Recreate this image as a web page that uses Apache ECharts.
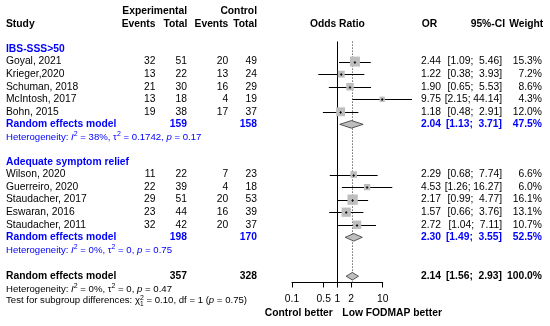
<!DOCTYPE html>
<html><head><meta charset="utf-8">
<script src="https://cdn.jsdelivr.net/npm/echarts@6/dist/echarts.min.js"></script>
<style>html,body{margin:0;padding:0;background:#fff}#c{width:550px;height:326px}</style>
</head><body><div id="c"></div>
<script>
// ---------- data ----------
const groupNames = ["IBS-SSS>50", "Adequate symptom relief"];
const studyNames = ["Goyal, 2021","Krieger,2020","Schuman, 2018","McIntosh, 2017","Bohn, 2015",
                    "Wilson, 2020","Guerreiro, 2020","Staudacher, 2017","Eswaran, 2016","Staudacher, 2011"];
const studyGroup = [0,0,0,0,0,1,1,1,1,1];
const expEvents = [32,13,21,13,19,11,22,29,23,32];
const expTotal = [51,22,30,18,38,22,39,51,44,42];
const ctrlEvents = [20,13,16,4,17,7,4,20,16,20];
const ctrlTotal = [49,24,29,19,37,23,18,53,39,37];
const studyOR = [2.44,1.22,1.90,9.75,1.18,2.29,4.53,2.17,1.57,2.72];
const studyLower = [1.09,0.38,0.65,2.15,0.48,0.68,1.26,0.99,0.66,1.04];
const studyUpper = [5.46,3.93,5.53,44.14,2.91,7.74,16.27,4.77,3.76,7.11];
const studyWeight = [15.3,7.2,8.6,4.3,12.0,6.6,6.0,16.1,13.1,10.7];
const pooledLabel = "Random effects model";
const pooledExpTotal = [159,198,357];
const pooledCtrlTotal = [158,170,328];
const pooledOR = [2.04,2.30,2.14];
const pooledLower = [1.13,1.49,1.56];
const pooledUpper = [3.71,3.55,2.93];
const pooledWeight = [47.5,52.5,100.0];
const hetI2 = ["38%","0%","0%"];
const hetTau2 = ["0.1742","0","0"];
const hetP = ["0.17","0.75","0.47"];
const subgroupChi2 = "0.10", subgroupDf = "1", subgroupP = "0.75";
const tickValues = [0.1,0.5,1,2,10];
const labelLeft = "Control better", labelRight = "Low FODMAP better";

// ---------- layout / style ----------
const FF = '"Liberation Sans", Arial, Helvetica, sans-serif';
const FS = 10.3, FSH = 9.6;
const BLUE = '#0000ff';
const COL = {study:6, expE:155.5, expT:187, ctlE:228.3, ctlT:257, or:441, ci:502, w:542};

function fmtCI(lo, hi){ return '[' + lo.toFixed(2) + '; ' + (hi < 10 ? ' ' : '') + hi.toFixed(2) + ']'; }

const groupRow = g => g * 9;
const studyRows = studyGroup.map((g, i) => groupRow(g) + 1 + (i - studyGroup.indexOf(g)));
const pooledRows = [6, 15, 18.1];
const hetRows = [7, 16, 19.12];
const testRow = 20.06;
const bottomLabelRow = 21.08;

const tableRows = [];
function add(row, cells){ tableRows.push({row, cells}); }
add(-3, [{x:COL.expT,a:'right',t:'Experimental',b:1},{x:COL.ctlT,a:'right',t:'Control',b:1}]);
add(-2, [{x:COL.study,a:'left',t:'Study',b:1},{x:COL.expE,a:'right',t:'Events',b:1},{x:COL.expT+0.3,a:'right',t:'Total',b:1},
         {x:COL.ctlE,a:'right',t:'Events',b:1},{x:COL.ctlT,a:'right',t:'Total',b:1},{xv:1,dx:0,a:'center',t:'Odds Ratio',b:1},
         {x:437.3,a:'right',t:'OR',b:1},{x:505,a:'right',t:'95%-CI',b:1},{x:543.3,a:'right',t:'Weight',b:1}]);
groupNames.forEach((g, gi) => add(groupRow(gi), [{x:COL.study,a:'left',t:g,b:1,c:BLUE}]));
studyNames.forEach((s, i) => add(studyRows[i], [
  {x:COL.study,a:'left',t:s},{x:COL.expE,a:'right',t:String(expEvents[i])},{x:COL.expT,a:'right',t:String(expTotal[i])},
  {x:COL.ctlE,a:'right',t:String(ctrlEvents[i])},{x:COL.ctlT,a:'right',t:String(ctrlTotal[i])},
  {x:COL.or,a:'right',t:studyOR[i].toFixed(2)},{x:COL.ci,a:'right',t:fmtCI(studyLower[i],studyUpper[i])},
  {x:COL.w,a:'right',t:studyWeight[i].toFixed(1)+'%'}]));
pooledOR.forEach((v, k) => {
  const c = k < 2 ? BLUE : '#000';
  add(pooledRows[k], [{x:COL.study,a:'left',t:pooledLabel,b:1,c},{x:COL.expT,a:'right',t:String(pooledExpTotal[k]),b:1,c},
    {x:COL.ctlT,a:'right',t:String(pooledCtrlTotal[k]),b:1,c},{x:COL.or,a:'right',t:v.toFixed(2),b:1,c},
    {x:COL.ci,a:'right',t:fmtCI(pooledLower[k],pooledUpper[k]),b:1,c},{x:COL.w,a:'right',t:pooledWeight[k].toFixed(1)+'%',b:1,c}]);
  add(hetRows[k], [{x:COL.study,a:'left',het:k,c}]);
});
add(testRow, [{x:COL.study,a:'left',test:1,c:'#000'}]);
add(bottomLabelRow, [{xv:1,dx:-4.5,a:'right',t:labelLeft,b:1},{xv:1,dx:5,a:'left',t:labelRight,b:1}]);

const mctx = document.createElement('canvas').getContext('2d');
function measure(t, size){ mctx.font = size + 'px ' + FF; return mctx.measureText(t).width; }

function richStyles(color){
  return {
    n:{fontSize:FSH,fontFamily:FF,fill:color,lineHeight:12},
    it:{fontSize:FSH,fontFamily:FF,fill:color,fontStyle:'italic',lineHeight:12},
    sup:{fontSize:7,fontFamily:FF,fill:color,verticalAlign:'top',lineHeight:7}
  };
}

function renderTable(params, api){
  const r = tableRows[api.value(1)];
  const y = api.coord([1, r.row])[1];
  const x1 = api.coord([1, r.row])[0];
  const children = [];
  r.cells.forEach(cell => {
    const x = cell.xv !== undefined ? x1 + cell.dx : cell.x;
    const color = cell.c || '#000';
    if (cell.het !== undefined) {
      const k = cell.het;
      children.push({type:'text', x, y, style:{
        text:'{n|Heterogeneity: }{it|I}{sup|2}{n| = ' + hetI2[k] + ', τ}{sup|2}{n| = ' + hetTau2[k] + ', }{it|p}{n| = ' + hetP[k] + '}',
        rich:richStyles(color), align:'left', verticalAlign:'middle', fill:color, fontSize:FSH, fontFamily:FF}});
    } else if (cell.test) {
      const pre = 'Test for subgroup differences: χ';
      children.push({type:'text', x, y, style:{
        text:'{n|' + pre + '}{sup|2}{n| = ' + subgroupChi2 + ', df = ' + subgroupDf + ' (}{it|p}{n| = ' + subgroupP + ')}',
        rich:richStyles(color), align:'left', verticalAlign:'middle', fill:color, fontSize:FSH, fontFamily:FF}});
      children.push({type:'text', x: x + measure(pre, FSH), y: y + 3.5, style:{
        text: subgroupDf, fontSize:6.5, fontFamily:FF, fill:color, align:'left', verticalAlign:'middle'}});
    } else {
      children.push({type:'text', x, y, style:{text:cell.t, align:cell.a, verticalAlign:'middle', fill:color,
        fontSize:FS, fontFamily:FF, fontWeight: cell.b ? 'bold' : 'normal'}});
    }
  });
  return {type:'group', children};
}

function renderStudy(params, api){
  const row = api.value(0), or = api.value(1), lo = api.value(2), hi = api.value(3), w = api.value(4);
  const p = api.coord([or, row]), pl = api.coord([lo, row]), ph = api.coord([hi, row]);
  const s = 2.56 * Math.sqrt(w);
  const yy = Math.round(p[1]) + 0.5;
  return {type:'group', children:[
    {type:'line', shape:{x1:pl[0], y1:yy, x2:ph[0], y2:yy}, style:{stroke:'#000', lineWidth:1}},
    {type:'rect', shape:{x:p[0]-s/2, y:p[1]-s/2, width:s, height:s}, style:{fill:'#bebebe'}},
    {type:'line', shape:{x1:p[0], y1:yy-1.5, x2:p[0], y2:yy+1.5}, style:{stroke:'#000', lineWidth:0.8}},
    {type:'line', shape:{x1:p[0]-1.2, y1:yy, x2:p[0]+1.2, y2:yy}, style:{stroke:'#000', lineWidth:0.8}}
  ]};
}

function renderDiamond(params, api){
  const row = api.value(0), or = api.value(1), lo = api.value(2), hi = api.value(3);
  const p = api.coord([or, row]), pl = api.coord([lo, row]), ph = api.coord([hi, row]);
  const h = 3.8;
  return {type:'polygon', shape:{points:[[pl[0],p[1]],[p[0],p[1]-h],[ph[0],p[1]],[p[0],p[1]+h]]},
    style:{fill:'#bebebe', stroke:'#333', lineWidth:0.8}};
}

function renderRef(params, api){
  const v = api.value(0);
  const a = api.coord([v, -0.6]), b = api.coord([v, 18.6]);
  const x = Math.round(a[0]) + 0.5;
  const dotted = params.dataIndex === 1;
  return {type:'line', shape:{x1:x, y1:a[1], x2:x, y2:b[1]},
    style:{stroke: dotted ? '#444' : '#000', lineWidth:1, lineDash: dotted ? [1.2,1.8] : null}};
}

const chart = echarts.init(document.getElementById('c'), null, {renderer:'canvas'});
chart.setOption({
  animation:false,
  backgroundColor:'#fff',
  textStyle:{fontFamily:FF},
  grid:{left:292, right:167.3, top:41.5, height:241},
  xAxis:{type:'log', logBase:10, min:0.1, max:10,
    axisLine:{onZero:false, lineStyle:{color:'#000', width:1}},
    axisTick:{customValues:tickValues, length:5, lineStyle:{color:'#000'}},
    axisLabel:{customValues:tickValues, margin:12, fontSize:FS, fontFamily:FF, color:'#000',
      formatter: v => String(+(+v).toPrecision(3))},
    splitLine:{show:false}, minorTick:{show:false}},
  yAxis:{type:'value', inverse:true, min:-0.6, max:18.6, show:false},
  series:[
    {type:'custom', name:'ref', renderItem:renderRef, encode:{x:0}, clip:false,
     data:[[1],[pooledOR[2]]], z:1},
    {type:'custom', name:'studies', renderItem:renderStudy, encode:{x:[1,2,3], y:0}, clip:false,
     data: studyOR.map((v,i) => [studyRows[i], v, studyLower[i], studyUpper[i], studyWeight[i]]), z:3},
    {type:'custom', name:'pooled', renderItem:renderDiamond, encode:{x:[1,2,3], y:0}, clip:false,
     data: pooledOR.map((v,k) => [pooledRows[k], v, pooledLower[k], pooledUpper[k]]), z:3},
    {type:'custom', name:'table', renderItem:renderTable, encode:{y:0}, clip:false,
     data: tableRows.map((r,i) => [r.row, i]), z:5}
  ]
});
</script></body></html>
